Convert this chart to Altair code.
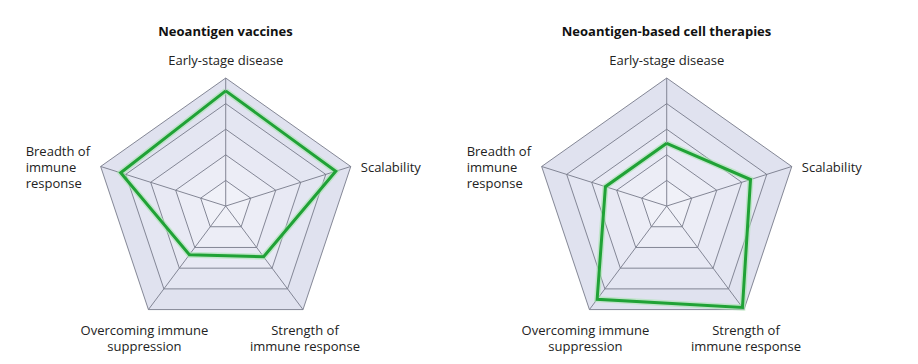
import altair as alt
import pandas as pd

# ---- data ----
axis_names = ["Early-stage disease", "Scalability", "Strength of immune response",
              "Overcoming immune suppression", "Breadth of immune response"]
axis_labels = ["Early-stage disease", "Scalability", "Strength of\nimmune response",
               "Overcoming immune\nsuppression", "Breadth of\nimmune\nresponse"]
levels = [1, 2, 3, 4, 5]
panel_titles = ["Neoantigen vaccines", "Neoantigen-based cell therapies"]
vaccine_scores = [4.5, 4.4, 2.45, 2.35, 4.2]
cell_therapy_scores = [2.45, 3.35, 4.9, 4.5, 2.45]

# ---- style ----
FONT = "Open Sans"
GRID = "#777a8a"
GREEN = "#20a236"
LEVEL_FILL = {5: "#e0e2ef", 4: "#e4e6f2", 3: "#e8e9f4", 2: "#ecedf6", 1: "#f0f1f8"}
W, H = 441, 310
XDOM = [-8.278, 8.490]
YDOM = [-5.78, 6.33]

n = len(axis_names)
ring_df = pd.DataFrame([{"level": lv, "idx": i} for lv in levels for i in range(n + 1)])
spoke_df = pd.DataFrame({"idx": list(range(n)), "r": [max(levels)] * n})
label_df = pd.DataFrame({"idx": list(range(n)), "label": axis_labels, "r": [max(levels)] * n})

ANG = "PI*(90-72*datum.idx)/180"
xs = alt.Scale(domain=XDOM, nice=False, zero=False)
ys = alt.Scale(domain=YDOM, nice=False, zero=False)


def polar(ch, rfield):
    return ch.transform_calculate(
        x=f"datum.{rfield}*cos({ANG})", y=f"datum.{rfield}*sin({ANG})"
    )


label_style = {
    0: dict(align="center", dx=0, dy=-17),
    1: dict(align="left", dx=10, dy=2),
    2: dict(align="center", dx=2, dy=21.5),
    3: dict(align="center", dx=-4, dy=21.5),
    4: dict(align="left", dx=-75, dy=-14),
}


def panel(scores, title):
    layers = []
    for lv in sorted(levels, reverse=True):
        ring = polar(
            alt.Chart(ring_df).transform_filter(f"datum.level == {lv}")
            .mark_line(fill=LEVEL_FILL[lv], stroke=GRID, strokeWidth=0.9, strokeJoin="miter"),
            "level",
        ).encode(
            x=alt.X("x:Q", scale=xs, axis=None),
            y=alt.Y("y:Q", scale=ys, axis=None),
            order="idx:O",
        )
        layers.append(ring)
    spokes = polar(
        alt.Chart(spoke_df).mark_rule(stroke=GRID, strokeWidth=0.9), "r"
    ).transform_calculate(x0="0", y0="0").encode(
        x=alt.X("x0:Q", scale=xs, axis=None),
        y=alt.Y("y0:Q", scale=ys, axis=None),
        x2="x:Q", y2="y:Q",
    )
    layers.append(spokes)
    sdf = pd.DataFrame({"idx": list(range(n + 1)), "score": scores + scores[:1]})
    halo = polar(
        alt.Chart(sdf).mark_line(stroke="#a6e3ae", strokeWidth=6, opacity=0.6, strokeJoin="miter"),
        "score",
    ).encode(x=alt.X("x:Q", scale=xs, axis=None), y=alt.Y("y:Q", scale=ys, axis=None), order="idx:O")
    line = polar(
        alt.Chart(sdf).mark_line(stroke=GREEN, strokeWidth=3, strokeJoin="miter"),
        "score",
    ).encode(x=alt.X("x:Q", scale=xs, axis=None), y=alt.Y("y:Q", scale=ys, axis=None), order="idx:O")
    layers += [halo, line]
    for i in range(n):
        st = label_style[i]
        t = polar(
            alt.Chart(label_df).transform_filter(f"datum.idx == {i}")
            .mark_text(font=FONT, fontSize=13, color="#222222", baseline="middle",
                       lineBreak="\n", lineHeight=16, **st),
            "r",
        ).encode(x=alt.X("x:Q", scale=xs, axis=None), y=alt.Y("y:Q", scale=ys, axis=None),
                 text="label:N")
        layers.append(t)
    return alt.layer(*layers).properties(
        width=W, height=H,
        title=alt.TitleParams(title, font=FONT, fontSize=13, fontWeight="bold",
                              color="#111111", anchor="middle", offset=6, dx=-3, dy=1),
    )


chart = alt.hconcat(
    panel(vaccine_scores, panel_titles[0]),
    panel(cell_therapy_scores, panel_titles[1]),
    spacing=0,
).properties(
    padding={"top": 18, "bottom": 0, "left": 0, "right": 0},
    background="#ffffff",
).configure_view(stroke=None)

chart.save("out.html", embed_options={"renderer": "svg", "actions": False})
